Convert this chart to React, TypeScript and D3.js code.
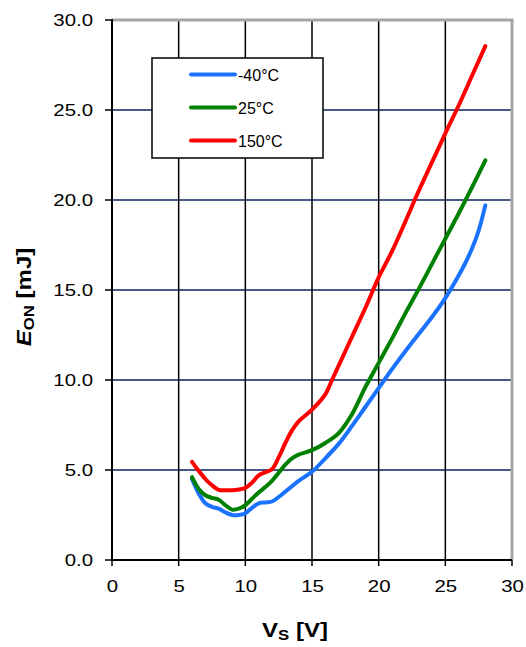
import React from "react";
import * as d3 from "d3";

const xTicks = [0, 5, 10, 15, 20, 25, 30];
const yTicks = [0, 5, 10, 15, 20, 25, 30];
const yTickLabels = ["0.0", "5.0", "10.0", "15.0", "20.0", "25.0", "30.0"];

const seriesNames = ["-40°C", "25°C", "150°C"];
const seriesColors = ["#1a72ff", "#008000", "#ff0000"];

const vsBlue = [6, 6.5, 7, 7.5, 8, 8.5, 9, 9.5, 10, 10.5, 11, 11.5, 12, 12.5, 13, 13.5, 14, 15, 16, 17, 18, 19, 20, 21, 22, 23, 24, 25, 26, 26.5, 27, 27.5, 28];
const eBlue = [4.5, 3.7, 3.15, 2.95, 2.85, 2.65, 2.5, 2.5, 2.6, 2.9, 3.15, 3.2, 3.25, 3.5, 3.8, 4.1, 4.4, 4.9, 5.65, 6.45, 7.45, 8.5, 9.55, 10.6, 11.6, 12.55, 13.5, 14.55, 15.8, 16.5, 17.3, 18.3, 19.7];

const vsGreen = [6, 6.5, 7, 7.5, 8, 8.5, 9, 9.5, 10, 10.5, 11, 11.5, 12, 12.5, 13, 13.5, 14, 15, 16, 17, 18, 19, 20, 21, 22, 23, 24, 25, 26, 27, 28];
const eGreen = [4.6, 3.95, 3.6, 3.45, 3.35, 3.05, 2.8, 2.85, 3.05, 3.4, 3.75, 4.05, 4.4, 4.85, 5.3, 5.65, 5.85, 6.1, 6.5, 7.05, 8.1, 9.6, 10.95, 12.3, 13.7, 15.05, 16.45, 17.85, 19.25, 20.7, 22.2];

const vsRed = [6, 6.5, 7, 7.5, 8, 8.5, 9, 9.5, 10, 10.5, 11, 11.5, 12, 12.5, 13, 13.5, 14, 15, 16, 16.5, 17, 18, 19, 20, 21, 22, 23, 24, 25, 26, 27, 28];
const eRed = [5.45, 4.95, 4.5, 4.15, 3.9, 3.88, 3.88, 3.92, 4.0, 4.3, 4.7, 4.88, 5.05, 5.7, 6.5, 7.2, 7.7, 8.35, 9.2, 10.0, 10.8, 12.4, 14.0, 15.7, 17.15, 18.8, 20.5, 22.1, 23.7, 25.25, 26.9, 28.55];

const W = 526;
const H = 647;
const left = 112;
const right = 512;
const top = 20;
const bottom = 560;
const stretch = 1.2;

export default function App() {
  const x = d3.scaleLinear().domain([0, 30]).range([left, right]);
  const y = d3.scaleLinear().domain([0, 30]).range([bottom, top]);
  const line = d3
    .line<[number, number]>()
    .x((d) => x(d[0]))
    .y((d) => y(d[1]))
    .curve(d3.curveCatmullRom.alpha(0.5));

  const series = [
    vsBlue.map((v, i) => [v, eBlue[i]] as [number, number]),
    vsGreen.map((v, i) => [v, eGreen[i]] as [number, number]),
    vsRed.map((v, i) => [v, eRed[i]] as [number, number]),
  ];

  const font = "'Liberation Sans', Arial, sans-serif";

  return (
    <svg
      width={W}
      height={H}
      style={{ position: "absolute", left: 0, top: 0, background: "#fff" }}
      fontFamily={font}
    >
      <rect x={0} y={0} width={W} height={H} fill="#fff" />
      {/* horizontal grid */}
      {yTicks.filter((t) => t > 0 && t < 30).map((t) => (
        <line key={"h" + t} x1={left} x2={right} y1={y(t)} y2={y(t)} stroke="#0d2160" strokeWidth={1.5} />
      ))}
      {/* vertical grid */}
      {xTicks.filter((t) => t > 0 && t < 30).map((t) => (
        <line key={"v" + t} x1={x(t)} x2={x(t)} y1={top} y2={bottom} stroke="#000" strokeWidth={1.5} />
      ))}
      {/* frame top/right grey */}
      <line x1={left} x2={right + 1.5} y1={top} y2={top} stroke="#a6a6a6" strokeWidth={3} />
      <line x1={right} x2={right} y1={top} y2={bottom} stroke="#a6a6a6" strokeWidth={3} />
      {/* axes */}
      <line x1={left} x2={left} y1={top - 1} y2={bottom} stroke="#000" strokeWidth={2} />
      <line x1={left} x2={right} y1={bottom} y2={bottom} stroke="#000" strokeWidth={2} />
      {yTicks.map((t) => (
        <line key={"yt" + t} x1={left - 7} x2={left} y1={y(t)} y2={y(t)} stroke="#000" strokeWidth={1.5} />
      ))}
      {xTicks.map((t) => (
        <line key={"xt" + t} x1={x(t)} x2={x(t)} y1={bottom} y2={bottom + 6} stroke="#000" strokeWidth={1.5} />
      ))}
      {/* tick labels */}
      {yTicks.map((t, i) => (
        <text
          key={"yl" + t}
          transform={`translate(93,${y(t) + 6}) scale(${stretch},1)`}
          fontSize={17}
          textAnchor="end"
          fill="#000"
        >
          {yTickLabels[i]}
        </text>
      ))}
      {xTicks.map((t) => (
        <text
          key={"xl" + t}
          transform={`translate(${x(t) + 0.5},592) scale(${stretch},1)`}
          fontSize={17}
          textAnchor="middle"
          fill="#000"
        >
          {t}
        </text>
      ))}
      {/* axis titles */}
      <text
        transform={`translate(295,637) scale(${stretch},1)`}
        fontSize={20}
        fontWeight="bold"
        textAnchor="middle"
        fill="#000"
      >
        V<tspan fontSize={14} dy={3}>S</tspan>
        <tspan dy={-3}> [V]</tspan>
      </text>
      <text
        transform={`translate(31,297) rotate(-90) scale(${stretch},1)`}
        fontSize={20}
        fontWeight="bold"
        textAnchor="middle"
        fill="#000"
      >
        <tspan fontStyle="italic">E</tspan>
        <tspan fontSize={14} dy={3}>ON</tspan>
        <tspan dy={-3}> [mJ]</tspan>
      </text>
      {/* curves */}
      {series.map((s, i) => (
        <path
          key={"s" + i}
          d={line(s) || ""}
          fill="none"
          stroke={seriesColors[i]}
          strokeWidth={4}
          strokeLinecap="round"
          strokeLinejoin="round"
        />
      ))}
      {/* legend */}
      <rect x={152} y={58} width={171} height={100} fill="#fff" stroke="#000" strokeWidth={1.5} />
      {seriesNames.map((n, i) => {
        const ly = 74.5 + i * 33;
        return (
          <g key={"lg" + i}>
            <line x1={191} x2={235} y1={ly} y2={ly} stroke={seriesColors[i]} strokeWidth={4} strokeLinecap="round" />
            <text x={238} y={ly + 6} fontSize={16} fill="#000">
              {n}
            </text>
          </g>
        );
      })}
    </svg>
  );
}
